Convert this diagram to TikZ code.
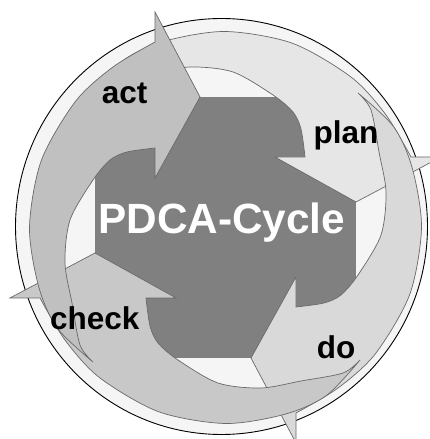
\documentclass[tikz,border=0pt]{standalone}
\usepackage{fontspec}
\setmainfont{Liberation Sans}
\definecolor{ringfill}{RGB}{245,245,245}
\definecolor{darkc}{RGB}{128,128,128}
\definecolor{actc}{RGB}{192,192,192}
\definecolor{planc}{RGB}{230,230,230}
\definecolor{doc}{RGB}{217,217,217}
\definecolor{checkc}{RGB}{200,200,200}
\definecolor{edgec}{RGB}{105,105,105}
\tikzset{
  arrowline/.style={draw=edgec, line width=0.7pt, line join=miter},
  lbl/.style={font=\bfseries\fontsize{31.5}{32}\selectfont, text=black, inner sep=0pt, anchor=base west},
  titlelbl/.style={font=\bfseries\fontsize{42.3}{43}\selectfont, text=white, inner sep=0pt, anchor=base}
}
% one swoosh arrow of the cycle, given fill colour and rotation
\newcommand{\pdcaarrow}[2]{%
  \begin{scope}[shift={(225.5,211.5)},rotate=#2]
    \filldraw[arrowline, fill=#1]
      (-70.5,185.5) -- (-70.5,215.5) -- (-25.5,130.5) -- (-70.5,49.5) -- (-70.5,79.5)
      -- plot[smooth] coordinates {(-70.5,79.5) (-98.5,75.5) (-115.5,67.5) (-132.5,47.5) (-155.5,7.5) (-160.5,-35.5) (-153.5,-75.5) (-145.5,-117.5) (-132.5,-134.5)}
      -- plot[smooth] coordinates {(-132.5,-134.5) (-168.0,-100.9) (-186.6,-59.9) (-196,0) (-184.2,67.0) (-150.1,126.0) (-112.4,160.6) (-70.5,185.5)}
      -- cycle;
  \end{scope}}
\begin{document}
\begin{tikzpicture}[x=1pt,y=1pt]
  \useasboundingbox (0,0) rectangle (430,439);
  \clip (0,0) rectangle (430,439);
  \fill[white] (0,0) rectangle (430,439);
  % outer disc
  \filldraw[fill=ringfill, draw=black, line width=0.9pt] (221.5,212.5) ellipse [x radius=206, y radius=208];
  % dark centre
  \fill[darkc] (95,81) rectangle (356,342);
  % arrows: plan, do, check, act
  \pdcaarrow{planc}{-90}
  \pdcaarrow{doc}{-180}
  \pdcaarrow{checkc}{90}
  \pdcaarrow{actc}{0}
  % labels
  \node[lbl] (act) at (101.7,335.5) {act};
  \node[lbl] (plan) at (313.3,295.7) {plan};
  \node[lbl] (check) at (50,109) {check};
  \node[lbl] (do) at (316.7,80.7) {do};
  \node[titlelbl] (title) at (221.7,205.7) {PDCA-Cycle};
\end{tikzpicture}
\end{document}
